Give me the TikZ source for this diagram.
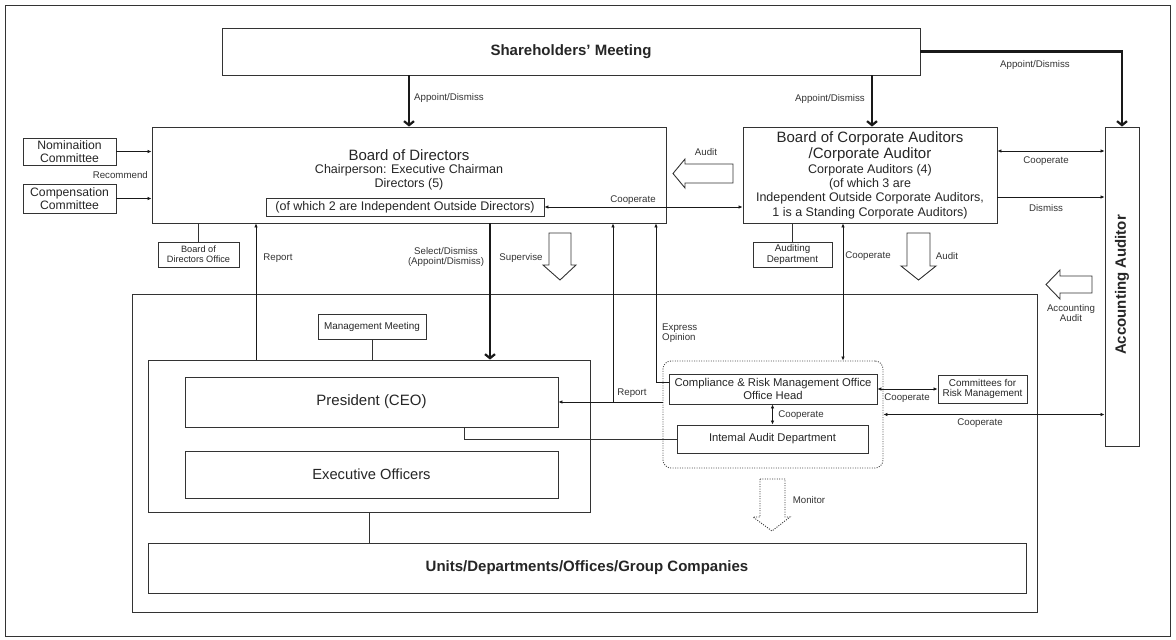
\documentclass[tikz,border=0pt]{standalone}
\usepackage{fontspec}
\setmainfont{Liberation Sans}
\usetikzlibrary{arrows.meta,calc}
\begin{document}
\begin{tikzpicture}[x=1pt,y=-1pt,
  ln/.style={draw=black!80, line width=0.9pt},
  box/.style={ln, rectangle, inner sep=0pt, fill=white, align=center, text=black!85},
  txt/.style={inner sep=0pt, align=center, text=black!85},
  lbl/.style={inner sep=0pt, align=center, text=black!80, font=\fontsize{9.7}{10.5}\selectfont},
  arr/.style={line width=0.9pt, draw=black!90, -{Latex[length=4pt,width=3.6pt]}},
  darr/.style={line width=0.9pt, draw=black!90, {Latex[length=4pt,width=3.6pt]}-{Latex[length=4pt,width=3.6pt]}},
  bigarr/.style={line width=2.2pt, draw=black!90, -{Straight Barb[length=4pt,width=10pt]}},
  hollow/.style={draw=black!80, line width=0.9pt, fill=white, line join=miter},
  fsmall/.style={font=\fontsize{9.3}{10.5}\selectfont},
  fmid/.style={font=\fontsize{11.3}{12.5}\selectfont},
  fbig/.style={font=\fontsize{12.5}{14.2}\selectfont},
  ftitle/.style={font=\fontsize{15}{16}\selectfont},
  fbold/.style={font=\bfseries\fontsize{15}{16}\selectfont}
]
\useasboundingbox (0,0) rectangle (1176,640);
\draw[ln] (5,5) rectangle (1170,636);

% main boxes
\node[box, minimum width=698pt, minimum height=47pt, fbold] (sh) at (571,51.5) {Shareholders' Meeting};
\node[box, minimum width=514pt, minimum height=96pt] (bod) at (409,175) {};
\node[txt, ftitle] (bodt) at (409,155) {Board of Directors};
\node[txt, fbig] (bodt2) at (409,177) {Chairperson: Executive Chairman\\Directors (5)};
\node[box, minimum width=278pt, minimum height=18pt, fbig] (ibox) at (405,207) {(of which 2 are Independent Outside Directors)};

\node[box, minimum width=93pt, minimum height=27pt, font=\fontsize{12.2}{13}\selectfont] (nom) at (69.5,151.5) {Nominaition\\Committee};
\node[box, minimum width=93pt, minimum height=29pt, font=\fontsize{12.2}{13}\selectfont] (comp) at (69.5,198.5) {Compensation\\Committee};

\node[box, minimum width=254pt, minimum height=96pt] (bca) at (870,175) {};
\node[txt, ftitle] (bcat1) at (870,147) {Board of Corporate Auditors\\/Corporate Auditor};
\node[txt, fbig] (bcat2) at (870,191.5) {Corporate Auditors (4)\\(of which 3 are\\Independent Outside Corporate Auditors,\\1 is a Standing Corporate Auditors)};

\node[box, minimum width=34pt, minimum height=319pt] (aa) at (1122,286.5) {};
\node[txt, fbold, rotate=90] (aat) at (1122,285) {Accounting Auditor};

\node[box, minimum width=81pt, minimum height=25pt, font=\fontsize{9.2}{10.3}\selectfont] (bdo) at (198.5,254.5) {Board of\\Directors Office};
\node[box, minimum width=79pt, minimum height=25pt, font=\fontsize{9.8}{10.6}\selectfont] (ad) at (792.5,254.5) {Auditing\\Department};

\node[box, minimum width=905pt, minimum height=318pt] (big) at (584.5,453) {};
\node[box, minimum width=108pt, minimum height=25pt, font=\fontsize{9.9}{11}\selectfont] (mm) at (372,326.5) {Management Meeting};
\node[box, minimum width=442pt, minimum height=152pt] (mgmt) at (369,436) {};
\node[box, minimum width=373pt, minimum height=50pt, font=\fontsize{15}{16}\selectfont] (pres) at (371.5,402) {President (CEO)};
\node[box, minimum width=373pt, minimum height=47pt, font=\fontsize{14.7}{16}\selectfont] (exec) at (371.5,474.5) {Executive Officers};
\node[box, minimum width=878pt, minimum height=50pt, font=\bfseries\fontsize{15}{16}\selectfont] (units) at (587,568) {Units/Departments/Offices/Group Companies};

\node[draw=black!70, line width=0.9pt, dash pattern=on 1pt off 1.4pt, rounded corners=8pt, minimum width=220pt, minimum height=107pt, inner sep=0pt] (dot) at (773,414.5) {};
\node[box, minimum width=208pt, minimum height=30pt, fmid] (crm) at (773,389) {Compliance \& Risk Management Office\\Office Head};
\node[box, minimum width=191pt, minimum height=28pt, font=\fontsize{11.2}{12}\selectfont] (iad) at (772.5,439) {Intemal Audit Department};
\node[box, minimum width=89pt, minimum height=28pt, font=\fontsize{9.9}{10.8}\selectfont] (crmc) at (982.5,389) {Committees for\\Risk Management};

% coordinates
\coordinate (xSel) at (490,0);
\coordinate (xRep) at (256,0);
\coordinate (xR2) at (613,0);
\coordinate (yE) at (0,382);
\coordinate (xE) at (656,0);
\coordinate (xC) at (843,0);
\coordinate (yC1) at (0,151);
\coordinate (yD) at (0,197);
\coordinate (xP) at (464,0);
\coordinate (xBA) at (872,0);

% connectors
\draw[bigarr] (sh.south -| bod.north) -- (bod.north);
\draw[bigarr] (sh.south -| xBA) -- (bca.north -| xBA);
\draw[bigarr] (sh.east) -| (aa.north);
\draw[arr] (nom.east) -- (bod.west |- nom.east);
\draw[arr] (comp.east) -- (bod.west |- comp.east);
\draw[darr] (ibox.east) -- (bca.west |- ibox.east);
\draw[darr] (bca.east |- yC1) -- (aa.west |- yC1);
\draw[arr] (bca.east |- yD) -- (aa.west |- yD);
\draw[ln] (bdo.north) -- (bod.south -| bdo.north);
\draw[ln] (ad.north) -- (bca.south -| ad.north);
\draw[arr] (mgmt.north -| xRep) -- (bod.south -| xRep);
\draw[bigarr] (bod.south -| xSel) -- (mgmt.north -| xSel);
\draw[ln] (mm.south) -- (mgmt.north -| mm.south);
\draw[ln] (mgmt.south) -- (units.north -| mgmt.south);
\draw[arr] (dot.west |- pres.east) -- (pres.east);
\draw[arr] (xR2 |- pres.east) -- (bod.south -| xR2);
\draw[arr] (crm.west |- yE) -| (bod.south -| xE);
\draw[darr] (bca.south -| xC) -- (dot.north -| xC);
\draw[darr] (crm.south -| iad.north) -- (iad.north);
\draw[ln] (pres.south -| xP) |- (iad.west);
\draw[darr] (crm.east) -- (crmc.west);
\draw[darr] (dot.east) -- (aa.west |- dot.east);

% hollow arrows
\draw[hollow] (549,233) -- (571,233) -- (571,265) -- (576,265) -- (560,280) -- (543,265) -- (549,265) -- cycle;
\draw[hollow] (907,233) -- (930,233) -- (930,266) -- (936,266) -- (918.5,280) -- (901,266) -- (907,266) -- cycle;
\draw[hollow] (733,164) -- (685,164) -- (685,159) -- (673,173.5) -- (685,188) -- (685,183) -- (733,183) -- cycle;
\draw[hollow] (1092,276) -- (1060,276) -- (1060,270) -- (1046,284.5) -- (1060,299) -- (1060,293) -- (1092,293) -- cycle;
\draw[hollow, dash pattern=on 1pt off 1.4pt] (760,479) -- (785,479) -- (785,517) -- (790,517) -- (772,531) -- (753,517) -- (760,517) -- cycle;

% labels
\node[lbl] (l1) at (449,98) {Appoint/Dismiss};
\node[lbl] (l2) at (830,99) {Appoint/Dismiss};
\node[lbl] (l3) at (1035,65) {Appoint/Dismiss};
\node[lbl, anchor=east] (l4) at (148,175) {Recommend};
\node[lbl] (l5) at (706,152) {Audit};
\node[lbl] (l6) at (633,200) {Cooperate};
\node[lbl] (l7) at (1046,161) {Cooperate};
\node[lbl] (l8) at (1046,208) {Dismiss};
\node[lbl] (l9) at (278,258) {Report};
\node[lbl] (l10) at (446,257) {Select/Dismiss\\(Appoint/Dismiss)};
\node[lbl] (l11) at (521,258) {Supervise};
\node[lbl] (l12) at (868,256) {Cooperate};
\node[lbl] (l13) at (947,256) {Audit};
\node[lbl] (l14) at (1071,313) {Accounting\\Audit};
\node[lbl, align=left, anchor=west] (l15) at (662,333) {Express\\Opinion};
\node[lbl] (l16) at (632,393) {Report};
\node[lbl] (l17) at (801,415) {Cooperate};
\node[lbl] (l18) at (907,398) {Cooperate};
\node[lbl] (l19) at (980,423) {Cooperate};
\node[lbl] (l20) at (809,500) {Monitor};
\end{tikzpicture}
\end{document}
